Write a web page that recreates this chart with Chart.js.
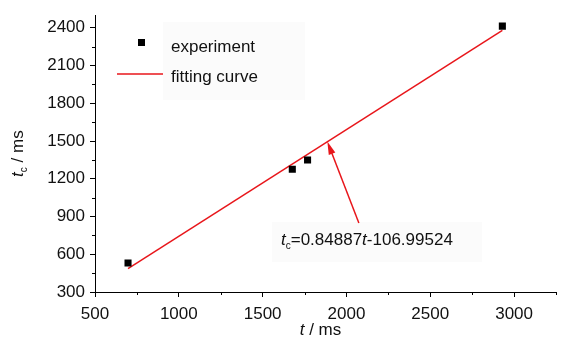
<!DOCTYPE html>
<html lang="en">
<head>
    <meta charset="UTF-8">
    <title>tc vs t</title>
    <script src="https://cdn.jsdelivr.net/npm/chart.js@4"></script>
    <style>
        body { margin: 0; background: #fff; }
        #wrap { width: 561px; height: 342px; position: relative; }
    </style>
</head>
<body>
    <div id="wrap"><canvas id="grafico"></canvas></div>
    <script>
        // datos
        const xTicks = [500, 1000, 1500, 2000, 2500, 3000];
        const xMinor = [750, 1250, 1750, 2250, 2750, 3250];
        const yTicks = [300, 600, 900, 1200, 1500, 1800, 2100, 2400];
        const yMinor = [450, 750, 1050, 1350, 1650, 1950, 2250];

        const expT  = [697, 1677, 1768, 2930];
        const expTc = [531, 1276, 1349, 2413];
        const fitT  = [697, 2930];
        const fitTc = [485, 2380];

        // flecha: cola -> punta
        const arrowT  = [2074, 1886];
        const arrowTc = [849, 1496];

        const FONT = '"Liberation Sans", Arial, sans-serif';
        const RED = '#e8161b';

        function richText(ctx, x, y, parts, size) {
            // parts: [texto, 'n' | 'i' | 'sub']
            let cx = x;
            parts.forEach(p => {
                const sub = p[1] === 'sub';
                const fs = sub ? Math.round(size * 0.6) : size;
                ctx.font = (p[1] === 'i' ? 'italic ' : '') + fs + 'px ' + FONT;
                ctx.fillText(p[0], cx, sub ? y + size * 0.22 : y);
                cx += ctx.measureText(p[0]).width;
            });
            return cx - x;
        }
        function richWidth(ctx, parts, size) {
            let w = 0;
            parts.forEach(p => {
                const fs = p[1] === 'sub' ? Math.round(size * 0.6) : size;
                ctx.font = (p[1] === 'i' ? 'italic ' : '') + fs + 'px ' + FONT;
                w += ctx.measureText(p[0]).width;
            });
            return w;
        }

        const extras = {
            id: 'extras',
            beforeDatasetsDraw(chart) {
                const ctx = chart.ctx;
                ctx.save();
                ctx.fillStyle = '#fbfbfb';
                ctx.fillRect(163, 22, 142, 78);
                ctx.fillRect(272, 222, 210, 40);
                ctx.restore();
            },
            afterDraw(chart) {
                const ctx = chart.ctx;
                const xs = chart.scales.x, ys = chart.scales.y;
                ctx.save();
                // ticks menores
                ctx.strokeStyle = '#000';
                ctx.lineWidth = 1;
                ctx.beginPath();
                xMinor.forEach(v => {
                    const px = Math.round(xs.getPixelForValue(v)) + 0.5;
                    ctx.moveTo(px, ys.bottom); ctx.lineTo(px, ys.bottom + 3);
                });
                yMinor.forEach(v => {
                    const py = Math.round(ys.getPixelForValue(v)) + 0.5;
                    ctx.moveTo(xs.left, py); ctx.lineTo(xs.left - 3, py);
                });
                ctx.stroke();

                // flecha
                const x0 = xs.getPixelForValue(arrowT[0]), y0 = ys.getPixelForValue(arrowTc[0]);
                const x1 = xs.getPixelForValue(arrowT[1]), y1 = ys.getPixelForValue(arrowTc[1]);
                const ang = Math.atan2(y1 - y0, x1 - x0);
                ctx.strokeStyle = RED;
                ctx.fillStyle = RED;
                ctx.lineWidth = 1.5;
                ctx.beginPath();
                ctx.moveTo(x0, y0);
                ctx.lineTo(x1 - 8 * Math.cos(ang), y1 - 8 * Math.sin(ang));
                ctx.stroke();
                ctx.beginPath();
                ctx.moveTo(x1, y1);
                ctx.lineTo(x1 - 13 * Math.cos(ang) + 3.5 * Math.sin(ang), y1 - 13 * Math.sin(ang) - 3.5 * Math.cos(ang));
                ctx.lineTo(x1 - 13 * Math.cos(ang) - 3.5 * Math.sin(ang), y1 - 13 * Math.sin(ang) + 3.5 * Math.cos(ang));
                ctx.closePath();
                ctx.fill();

                // textos
                ctx.fillStyle = '#111';
                ctx.textBaseline = 'alphabetic';
                ctx.textAlign = 'left';
                richText(ctx, 281, 245, [['t', 'i'], ['c', 'sub'], ['=0.84887', 'n'], ['t', 'i'], ['-106.99524', 'n']], 17);

                // titulo eje x
                const xt = [['t', 'i'], [' / ms', 'n']];
                const wx = richWidth(ctx, xt, 17);
                richText(ctx, (xs.left + xs.right) / 2 - wx / 2 - 5, 335, xt, 17);

                // titulo eje y
                const yt = [['t', 'i'], ['c', 'sub'], [' / ms', 'n']];
                const wy = richWidth(ctx, yt, 17);
                ctx.save();
                ctx.translate(23, (ys.top + ys.bottom) / 2);
                ctx.rotate(-Math.PI / 2);
                richText(ctx, -wy / 2, 0, yt, 17);
                ctx.restore();

                // leyenda
                ctx.fillStyle = '#000';
                ctx.fillRect(138, 39, 7, 7);
                ctx.strokeStyle = RED;
                ctx.lineWidth = 1.5;
                ctx.beginPath();
                ctx.moveTo(117, 74); ctx.lineTo(163, 74);
                ctx.stroke();
                ctx.fillStyle = '#111';
                ctx.font = '17px ' + FONT;
                ctx.fillText('experiment', 171, 52);
                ctx.fillText('fitting curve', 171, 82);
                ctx.restore();
            }
        };

        new Chart(document.getElementById('grafico'), {
            type: 'scatter',
            data: {
                datasets: [
                    {
                        label: 'experiment',
                        data: expT.map((t, i) => ({ x: t, y: expTc[i] })),
                        pointStyle: 'rect',
                        pointRadius: 5,
                        backgroundColor: '#000',
                        borderColor: '#000',
                        borderWidth: 0
                    },
                    {
                        label: 'fitting curve',
                        data: fitT.map((t, i) => ({ x: t, y: fitTc[i] })),
                        showLine: true,
                        pointRadius: 0,
                        borderColor: RED,
                        borderWidth: 1.5
                    }
                ]
            },
            options: {
                responsive: true,
                maintainAspectRatio: false,
                animation: false,
                layout: { padding: { top: 12, right: 1, left: 0, bottom: 0 } },
                plugins: { legend: { display: false }, tooltip: { enabled: false } },
                scales: {
                    x: {
                        type: 'linear',
                        min: 500,
                        max: 3250,
                        afterBuildTicks: s => { s.ticks = xTicks.map(v => ({ value: v })); },
                        afterFit: s => { s.height = 50; },
                        grid: { drawOnChartArea: false, tickLength: 5, color: '#000' },
                        border: { color: '#000', width: 1 },
                        ticks: { color: '#111', padding: 7, font: { family: FONT, size: 17 }, maxRotation: 0,
                                 callback: v => String(v) }
                    },
                    y: {
                        type: 'linear',
                        min: 300,
                        max: 2500,
                        afterBuildTicks: s => { s.ticks = yTicks.map(v => ({ value: v })); },
                        afterFit: s => { s.width = 95; },
                        grid: { drawOnChartArea: false, tickLength: 5, color: '#000' },
                        border: { color: '#000', width: 1 },
                        ticks: { color: '#111', padding: 5, font: { family: FONT, size: 17 },
                                 callback: v => String(v) }
                    }
                }
            },
            plugins: [extras]
        });
    </script>
</body>
</html>
